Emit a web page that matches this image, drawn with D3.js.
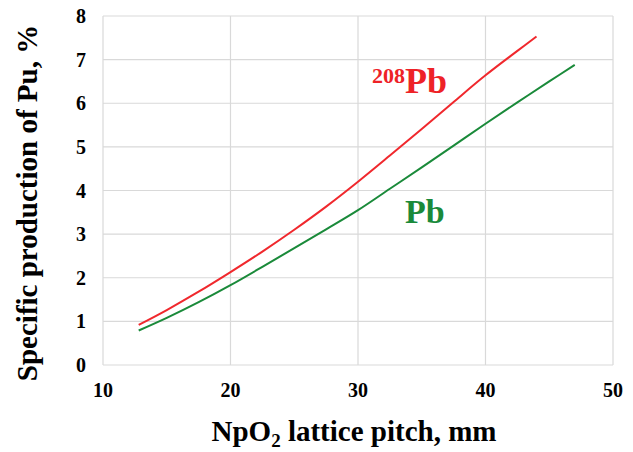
<!DOCTYPE html>
<html>
<head>
<meta charset="utf-8">
<script src="https://cdn.jsdelivr.net/npm/d3@7"></script>
<style>
  body { margin: 0; background: #fff; }
  text { font-family: 'Liberation Serif', 'Times New Roman', serif; font-weight: bold; }
</style>
</head>
<body>
<svg id="chart" width="633" height="452"></svg>
<script>
// values
const pitchPb208 = [12.8, 15, 17.5, 20, 22.5, 25, 27.5, 30, 32.5, 35, 37.5, 40, 42.5, 44];
const prodPb208  = [0.92, 1.26, 1.68, 2.13, 2.6, 3.1, 3.63, 4.2, 4.8, 5.41, 6.03, 6.64, 7.2, 7.53];
const pitchPb    = [12.8, 15, 17.5, 20, 22.5, 25, 27.5, 30, 32.5, 35, 37.5, 40, 42.5, 45, 47];
const prodPb     = [0.79, 1.08, 1.44, 1.83, 2.25, 2.68, 3.11, 3.55, 4.04, 4.53, 5.03, 5.53, 6.02, 6.5, 6.88];
const xTicks = [10, 20, 30, 40, 50];
const yTicks = [0, 1, 2, 3, 4, 5, 6, 7, 8];

const margin = {left: 103, top: 16, right: 20, bottom: 87};
const svg = d3.select('#chart');
const W = 633 - margin.left - margin.right;
const H = 452 - margin.top - margin.bottom;

const x = d3.scaleLinear().domain([10, 50]).range([0, W]);
const y = d3.scaleLinear().domain([0, 8]).range([H, 0]);

const g = svg.append('g').attr('transform', 'translate(' + margin.left + ',' + margin.top + ')');

// grid
g.selectAll('.vg').data(xTicks).enter().append('line')
  .attr('x1', d => x(d)).attr('x2', d => x(d))
  .attr('y1', 0).attr('y2', H)
  .attr('stroke', '#d9d9d9').attr('stroke-width', 1.2);
g.selectAll('.hg').data(yTicks).enter().append('line')
  .attr('x1', 0).attr('x2', W)
  .attr('y1', d => y(d)).attr('y2', d => y(d))
  .attr('stroke', '#d9d9d9').attr('stroke-width', 1.2);

// tick labels
g.selectAll('.xt').data(xTicks).enter().append('text')
  .attr('x', d => x(d)).attr('y', H + 32)
  .attr('text-anchor', 'middle').style('font-size', '20px').attr('fill', '#000')
  .text(d => d);
g.selectAll('.yt').data(yTicks).enter().append('text')
  .attr('x', -17).attr('y', d => y(d) + 7)
  .attr('text-anchor', 'end').style('font-size', '20px').attr('fill', '#000')
  .text(d => d);

// curves
const line = d3.line().x(d => x(d[0])).y(d => y(d[1])).curve(d3.curveCatmullRom);
g.append('path').datum(d3.zip(pitchPb208, prodPb208))
  .attr('d', line).attr('fill', 'none').attr('stroke', '#f0282d').attr('stroke-width', 2);
g.append('path').datum(d3.zip(pitchPb, prodPb))
  .attr('d', line).attr('fill', 'none').attr('stroke', '#1a8a3a').attr('stroke-width', 2);

// series labels
const l1 = svg.append('text').attr('x', 372).attr('y', 93).attr('fill', '#ee2227');
l1.append('tspan').style('font-size', '22px').attr('dy', '-10').text('208');
l1.append('tspan').style('font-size', '36px').attr('dy', '10').text('Pb');
svg.append('text').attr('x', 405).attr('y', 223).attr('fill', '#1a8a3a')
  .style('font-size', '34px').text('Pb');

// axis titles
const xt = svg.append('text').attr('x', 354).attr('y', 441).attr('text-anchor', 'middle')
  .style('font-size', '29px').attr('fill', '#000');
xt.append('tspan').text('NpO');
xt.append('tspan').style('font-size', '19px').attr('dy', 6).text('2');
xt.append('tspan').attr('dy', -6).text(' lattice pitch, mm');

svg.append('text').attr('transform', 'translate(37,203) rotate(-90)')
  .attr('text-anchor', 'middle').style('font-size', '29px').attr('fill', '#000')
  .text('Specific production of Pu, %');
</script>
</body>
</html>
